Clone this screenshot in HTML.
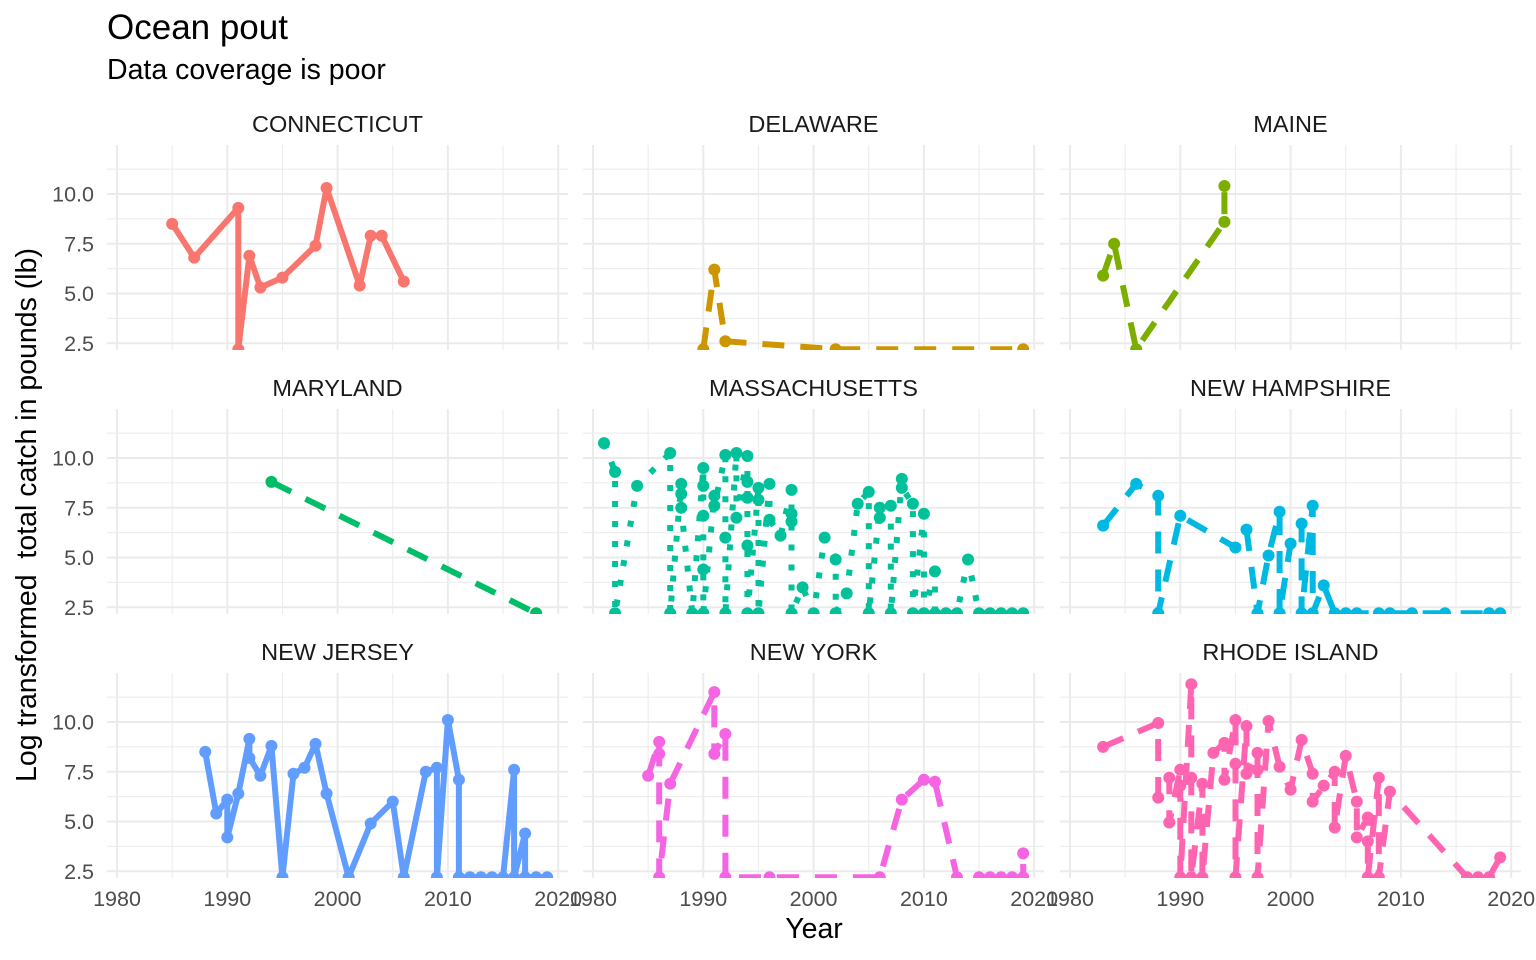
<!DOCTYPE html>
<html><head><meta charset="utf-8"><style>
html,body{margin:0;padding:0;background:#fff;}
svg{display:block;font-family:"Liberation Sans",Arial,sans-serif;}
</style></head><body>
<svg id="chart" width="1536" height="960" xmlns="http://www.w3.org/2000/svg">
<text x="107" y="39" font-size="35" fill="#000">Ocean pout</text>
<text x="107" y="79" font-size="28.5" fill="#000">Data coverage is poor</text>
<text x="814" y="938" font-size="28.5" text-anchor="middle" fill="#000">Year</text>
<text transform="translate(36,515) rotate(-90)" font-size="28.5" text-anchor="middle" fill="#000" xml:space="preserve">Log transformed  total catch in pounds (lb)</text>
<g id="panels"></g>
</svg>
<script>
const states = ["CONNECTICUT","DELAWARE","MAINE","MARYLAND","MASSACHUSETTS","NEW HAMPSHIRE","NEW JERSEY","NEW YORK","RHODE ISLAND"];
const colors = ["#F8766D","#CD9600","#7CAE00","#00BE67","#00C19A","#00B9E3","#619CFF","#F564E3","#FF64B0"];
const dashes = ["none","22,16","22,16","22,16","6,14","22,16","none","22,16","22,16"];
const xTicks = [1980,1990,2000,2010,2020];
const yTicks = [2.5,5.0,7.5,10.0];
const ctYears = [1985,1987,1991,1991,1992,1993,1995,1998,1999,2002,2003,2004,2006];
const ctVals  = [8.5,6.8,9.3,2.2,6.9,5.3,5.8,7.4,10.3,5.4,7.9,7.9,5.6];
const deYears = [1990,1991,1992,2002,2019];
const deVals  = [2.2,6.2,2.6,2.2,2.2];
const meYears = [1983,1984,1986,1994,1994];
const meVals  = [5.9,7.5,2.2,8.6,10.4];
const mdYears = [1994,2018];
const mdVals  = [8.8,2.2];
const maYears = [1981,1982,1982,1984,1987,1987,1988,1988,1988,1989,1990,1990,1990,1990,1990,1991,1991,1992,1992,1992,1993,1993,1994,1994,1994,1994,1994,1995,1995,1995,1996,1996,1997,1998,1998,1998,1998,1999,2000,2001,2002,2002,2003,2004,2005,2005,2006,2006,2007,2007,2008,2008,2009,2009,2010,2010,2011,2011,2012,2013,2014,2015,2016,2017,2018,2019];
const maVals  = [10.75,9.3,2.2,8.6,10.25,2.2,8.7,8.2,7.5,2.2,9.5,8.6,7.1,4.4,2.2,8.1,7.6,10.15,6.0,2.2,10.25,7.0,10.1,8.8,8.0,5.6,2.2,8.5,7.9,2.2,8.7,6.9,6.1,8.4,7.2,6.8,2.2,3.5,2.2,6.0,4.9,2.2,3.2,7.7,8.3,2.2,7.5,7.0,7.6,2.2,8.95,8.5,7.7,2.2,7.2,2.2,4.3,2.2,2.2,2.2,4.9,2.2,2.2,2.2,2.2,2.2];
const nhYears = [1983,1986,1988,1988,1990,1995,1996,1997,1998,1999,1999,2000,2001,2001,2002,2002,2003,2004,2005,2006,2008,2009,2011,2014,2018,2019];
const nhVals  = [6.6,8.7,8.1,2.2,7.1,5.5,6.4,2.2,5.1,7.3,2.2,5.7,6.7,2.2,7.6,2.2,3.6,2.2,2.2,2.2,2.2,2.2,2.2,2.2,2.2,2.2];
const njYears = [1988,1989,1990,1990,1991,1992,1992,1993,1994,1995,1996,1997,1998,1999,2001,2003,2005,2006,2008,2009,2009,2010,2011,2011,2012,2013,2014,2015,2016,2016,2017,2017,2018,2019];
const njVals  = [8.5,5.4,6.1,4.2,6.4,9.15,8.2,7.3,8.8,2.2,7.4,7.7,8.9,6.4,2.2,4.9,6.0,2.2,7.5,7.7,2.2,10.1,7.1,2.2,2.2,2.2,2.2,2.2,7.6,2.2,4.4,2.2,2.2,2.2];
const nyYears = [1985,1986,1986,1986,1987,1991,1991,1992,1992,1996,2006,2008,2010,2011,2013,2015,2016,2017,2018,2019,2019];
const nyVals  = [7.3,9.0,8.4,2.2,6.9,11.5,8.4,9.4,2.2,2.2,2.2,6.1,7.1,7.0,2.2,2.2,2.2,2.2,2.2,2.2,3.4];
const riYears = [1983,1988,1988,1989,1989,1990,1990,1990,1991,1991,1991,1992,1992,1993,1994,1994,1995,1995,1995,1996,1996,1997,1997,1997,1998,1999,2000,2001,2002,2002,2003,2004,2004,2005,2006,2006,2007,2007,2007,2008,2008,2009,2016,2017,2018,2019];
const riVals  = [8.75,9.95,6.2,7.2,4.95,7.6,6.8,2.2,11.9,7.2,2.2,6.9,2.2,8.45,8.95,7.1,10.1,7.9,2.2,9.8,7.4,8.45,7.6,2.2,10.05,7.75,6.6,9.1,7.4,6.0,6.8,7.5,4.7,8.3,6.0,4.2,5.2,4.0,2.2,7.2,2.2,6.5,2.2,2.2,2.2,3.2];
const allYears = [ctYears,deYears,meYears,mdYears,maYears,nhYears,njYears,nyYears,riYears];
const allVals  = [ctVals,deVals,meVals,mdVals,maVals,nhVals,njVals,nyVals,riVals];

const NS="http://www.w3.org/2000/svg";
const colLeft=[107,583,1060], rowTop=[145,409,673], PW=461, PH=205;
function el(tag, attrs, parent){const e=document.createElementNS(NS,tag);for(const k in attrs)e.setAttribute(k,attrs[k]);parent.appendChild(e);return e;}
function xScale(c,yr){return colLeft[c]+10+(yr-1980)*11.03;}
function yScale(r,v){return rowTop[r]+49-(v-10)*19.9;}
const root=document.getElementById('panels');
const defs=el('defs',{},root);
for(let i=0;i<9;i++){
  const c=i%3, r=Math.floor(i/3);
  const g=el('g',{},root);
  
  
  const cp=el('clipPath',{id:'cp'+i},defs);
  el('rect',{x:colLeft[c],y:rowTop[r],width:PW,height:PH},cp);
  for(let yr=1985;yr<=2015;yr+=10){el('line',{x1:xScale(c,yr),x2:xScale(c,yr),y1:rowTop[r],y2:rowTop[r]+PH,stroke:'#ebebeb','stroke-width':1},g);}
  [3.75,6.25,8.75,11.25].forEach(v=>el('line',{x1:colLeft[c],x2:colLeft[c]+PW,y1:yScale(r,v),y2:yScale(r,v),stroke:'#ebebeb','stroke-width':1},g));
  xTicks.forEach(t=>{const gl=el('line',{x1:xScale(c,t),x2:xScale(c,t),y1:rowTop[r],y2:rowTop[r]+PH,stroke:'#ebebeb','stroke-width':2},g);
    
    });
  yTicks.forEach(t=>{const gl=el('line',{x1:colLeft[c],x2:colLeft[c]+PW,y1:yScale(r,t),y2:yScale(r,t),stroke:'#ebebeb','stroke-width':2},g);
    
    });
  const st=el('text',{x:colLeft[c]+PW/2,y:rowTop[r]-13,'font-size':23.5,'text-anchor':'middle',fill:'#1a1a1a'},g);
  st.textContent=states[i];
  
  
  if(c===0){yTicks.forEach(t=>{const tx=el('text',{x:94,y:yScale(r,t)+7.5,'font-size':21.5,'text-anchor':'end',fill:'#4d4d4d'},g);tx.textContent=t.toFixed(1);
    
    });}
  if(r===2){xTicks.forEach(t=>{const tx=el('text',{x:xScale(c,t),y:906,'font-size':21.5,'text-anchor':'middle',fill:'#4d4d4d'},g);tx.textContent=t;
    
    });}
  const sg=el('g',{'clip-path':'url(#cp'+i+')'},g);
  const pts=allYears[i].map((y,k)=>xScale(c,y).toFixed(1)+','+yScale(r,Math.max(allVals[i][k],2.2)).toFixed(1)).join(' ');
  const pl=el('polyline',{points:pts,fill:'none',stroke:colors[i],'stroke-width':6,'stroke-linejoin':'round','stroke-dasharray':dashes[i]},sg);
  
  
  allYears[i].forEach((y,k)=>{
    const p=el('circle',{cx:xScale(c,y),cy:yScale(r,Math.max(allVals[i][k],2.2)),r:6,fill:colors[i]},sg);
    
    
  });
}
</script>
</body></html>
